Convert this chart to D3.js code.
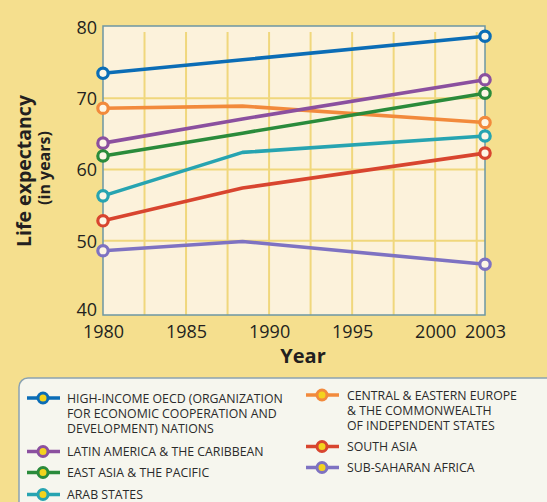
<!DOCTYPE html>
<html><head><meta charset="utf-8">
<script src="https://cdn.jsdelivr.net/npm/d3@7"></script>
<style>
html,body{margin:0;padding:0;background:#f5df8e;}
svg{display:block;}
text{font-family:"Open Sans",sans-serif;}
</style></head>
<body>
<svg id="c" width="547" height="502"></svg>
<script>
// ---- data ----
const years = [1980, 1988.4, 2003];
const seriesNames = ["High-income OECD","Central & Eastern Europe & CIS","Latin America & the Caribbean","East Asia & the Pacific","Arab States","South Asia","Sub-Saharan Africa"];
const oecd     = [73.5, 75.4, 78.7];
const ceeCis   = [68.6, 68.9, 66.6];
const latAm    = [63.7, 67.1, 72.6];
const eastAsia = [61.9, 65.1, 70.7];
const arab     = [56.3, 62.4, 64.7];
const southAsia= [52.8, 57.4, 62.3];
const ssAfrica = [48.6, 49.9, 46.7];
const seriesValues = [oecd, ceeCis, latAm, eastAsia, arab, southAsia, ssAfrica];
const seriesColors = ["#0b6db6","#f28a3c","#8b509f","#2a8b3b","#27a4b1","#d8452f","#7e72c2"];
const xTicks = [1980,1985,1990,1995,2000,2003];
const yTicks = [40,50,60,70,80];
const legendLeft = [
  {i:0, lines:["HIGH-INCOME OECD (ORGANIZATION","FOR ECONOMIC COOPERATION AND","DEVELOPMENT) NATIONS"]},
  {i:2, lines:["LATIN AMERICA & THE CARIBBEAN"]},
  {i:3, lines:["EAST ASIA & THE PACIFIC"]},
  {i:4, lines:["ARAB STATES"]}
];
const legendRight = [
  {i:1, lines:["CENTRAL & EASTERN EUROPE","& THE COMMONWEALTH","OF INDEPENDENT STATES"]},
  {i:5, lines:["SOUTH ASIA"]},
  {i:6, lines:["SUB-SAHARAN AFRICA"]}
];

// ---- chart ----
const svg = d3.select("#c");
const L = 103, R = 485, T = 27, B = 312;
const x = d3.scaleLinear().domain([1980, 2003]).range([L, R]);
const y = d3.scaleLinear().domain([40, 80]).range([B, T]);

svg.append("rect").attr("width",547).attr("height",502).attr("fill","#f5df8e");
// plot bg
svg.append("rect").attr("x",L).attr("y",T-1).attr("width",R-L).attr("height",315-(T-1))
  .attr("fill","#fcf2db");

// grid
const gx = d3.range(1982.5, 2003, 2.5);
svg.append("g").selectAll("line").data(gx).join("line")
  .attr("x1",d=>x(d)).attr("x2",d=>x(d)).attr("y1",T+5).attr("y2",315)
  .attr("stroke","#f0d77c").attr("stroke-width",2);
svg.append("g").selectAll("line").data([50,60,70]).join("line")
  .attr("x1",L).attr("x2",R).attr("y1",d=>y(d)).attr("y2",d=>y(d))
  .attr("stroke","#f0d77c").attr("stroke-width",2);

// frame
svg.append("rect").attr("x",L).attr("y",T-1).attr("width",R-L).attr("height",315-(T-1))
  .attr("fill","none").attr("stroke","#6c97a4").attr("stroke-width",1.5);

// axes
const xAxis = d3.axisBottom(x).tickValues(xTicks).tickSize(0).tickPadding(0).tickFormat(d3.format("d"));
const gxA = svg.append("g").attr("transform",`translate(0,${315})`).call(xAxis);
gxA.select(".domain").remove();
gxA.selectAll("text").attr("font-size",18).attr("fill","#231f20").attr("dy",0).attr("y",23);

const yAxis = d3.axisLeft(y).tickValues(yTicks).tickSize(0).tickPadding(0);
const gyA = svg.append("g").attr("transform",`translate(${L-6},0)`).call(yAxis);
gyA.select(".domain").remove();
gyA.selectAll("text").attr("font-size",18).attr("fill","#231f20").attr("dy","0.35em").attr("x",0);
gyA.selectAll(".tick").filter(d=>d===40).attr("transform",`translate(0,${y(40)-2})`);

// titles
svg.append("text").attr("x",303).attr("y",363).attr("text-anchor","middle")
  .attr("font-size",20).attr("font-weight","bold").attr("fill","#231f20").text("Year");
svg.append("text").attr("transform","translate(31,171) rotate(-90)").attr("text-anchor","middle")
  .attr("font-size",19.5).attr("font-weight","bold").attr("fill","#231f20").text("Life expectancy");
svg.append("text").attr("transform","translate(50,168) rotate(-90)").attr("text-anchor","middle")
  .attr("font-size",16).attr("font-weight","bold").attr("fill","#231f20").text("(in years)");

// lines
const line = d3.line().x((d,i)=>x(years[i])).y(d=>y(d));
const gl = svg.append("g");
seriesValues.forEach((vals,k)=>{
  gl.append("path").attr("d",line(vals)).attr("fill","none")
    .attr("stroke",seriesColors[k]).attr("stroke-width",3.6).attr("stroke-linejoin","round");
});
seriesValues.forEach((vals,k)=>{
  [0, vals.length-1].forEach(i=>{
    gl.append("circle").attr("cx",x(years[i])).attr("cy",y(vals[i])).attr("r",5.2)
      .attr("fill","#fdf6e6").attr("stroke",seriesColors[k]).attr("stroke-width",3.2);
  });
});

// legend
const lg = svg.append("g");
lg.append("rect").attr("x",19).attr("y",378).attr("width",540).attr("height",140).attr("rx",9)
  .attr("fill","#f6f6ee").attr("stroke","#8aa3b2").attr("stroke-width",1.5);

function drawLegend(items, ix, tx, baselines){
  let b = 0;
  items.forEach(it=>{
    const col = seriesColors[it.i];
    const base = baselines[b];
    const cy = base - 4.5;
    lg.append("line").attr("x1",ix-16).attr("x2",ix+17).attr("y1",cy).attr("y2",cy)
      .attr("stroke",col).attr("stroke-width",3.6);
    lg.append("circle").attr("cx",ix).attr("cy",cy).attr("r",5).attr("fill","#f3d31e")
      .attr("stroke",col).attr("stroke-width",3);
    it.lines.forEach((t,j)=>{
      lg.append("text").attr("x",tx).attr("y",baselines[b]).attr("font-size",12.3)
        .attr("fill","#2a2a2a").text(t);
      b++;
    });
  });
}
drawLegend(legendLeft, 43, 67, [402.5,418,433,456,477,499]);
drawLegend(legendRight, 322, 347, [399.5,415,430,451,472]);
</script>
</body></html>
